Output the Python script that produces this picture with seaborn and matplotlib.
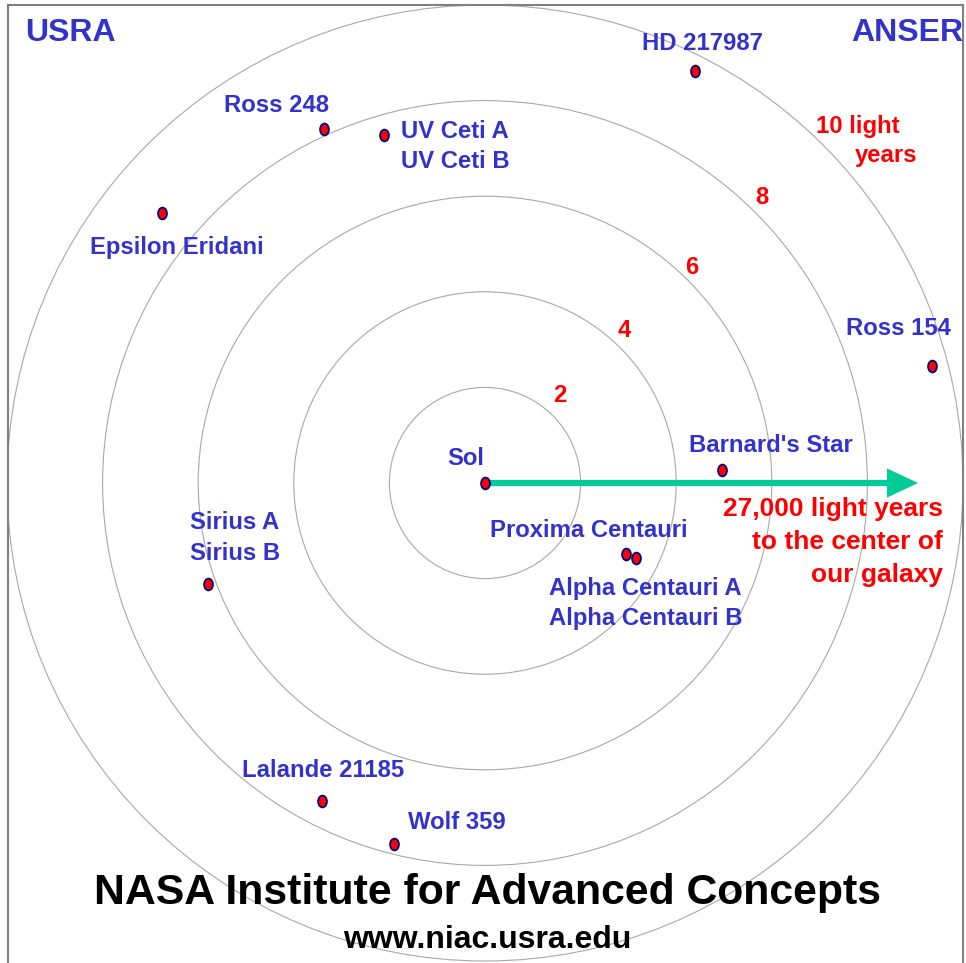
"""
Nearby stars within ~10 light years of the Sun (NIAC / USRA poster style).
Sol sits in the middle, rings every 2 light years, arrow towards the galactic center.
"""

import pandas as pd
import matplotlib.pyplot as plt
import seaborn as sns
from matplotlib.markers import MarkerStyle
from matplotlib.transforms import Affine2D
from matplotlib.patches import Circle

# Star positions in light years (Sol at origin)
star_names = ["Sol", "HD 217987", "Ross 248", "UV Ceti A\nUV Ceti B", "Epsilon Eridani",
              "Ross 154", "Barnard's Star", "Proxima Centauri",
              "Alpha Centauri A\nAlpha Centauri B", "Sirius A\nSirius B",
              "Lalande 21185", "Wolf 359"]
star_x = [0.0, 4.39, -3.36, -2.11, -6.76, 9.35, 4.95, 2.94, 3.15, -5.79, -3.41, -1.90]
star_y = [0.0, 8.62, 7.41, 7.27, 5.64, 2.45, 0.27, -1.48, -1.56, -2.11, -6.65, -7.56]

# Distance rings
ring_radii = [2, 4, 6, 8, 10]
ring_labels = ["2", "4", "6", "8", "10 light"]

galaxy_note = "27,000 light years\nto the center of\nour galaxy"
arrow_length = 9.06  # light years on the chart

# label offsets from the star, in pixels (dx, dy, ha)
label_layout = {
    "Sol": (-19, 24, "center"),
    "HD 217987": (8, 27, "center"),
    "Ross 248": (-48, 23, "center"),
    "UV Ceti A\nUV Ceti B": (17, -11, "left"),
    "Epsilon Eridani": (15, -34, "center"),
    "Ross 154": (-33, 37, "center"),
    "Barnard's Star": (49, 25, "center"),
    "Proxima Centauri": (-37, 23, "center"),
    "Alpha Centauri A\nAlpha Centauri B": (-87, -46, "left"),
    "Sirius A\nSirius B": (-18, 46, "left"),
    "Lalande 21185": (1, 30, "center"),
    "Wolf 359": (14, 22, "left"),
}
ring_label_offsets = [(7, 20), (4, 17), (4, 13), (6, 15), (35, 19)]

BLUE = "#3333CC"
RED = "#FF0000"
PX_PER_LY = 47.8
LABEL_SIZE = 17.2


def main():
    sns.set_style("white")
    plt.rcParams["font.family"] = ["Liberation Sans", "DejaVu Sans"]
    plt.rcParams["font.weight"] = "bold"

    fig = plt.figure(figsize=(9.66, 9.63), dpi=100)
    ax = fig.add_axes([8 / 966, 0, 955 / 966, 958 / 963])
    ax.set_xlim(-477 / PX_PER_LY, 478 / PX_PER_LY)
    ax.set_ylim(-480 / PX_PER_LY, 478 / PX_PER_LY)
    ax.set_xticks([])
    ax.set_yticks([])
    for side in ["left", "top", "right"]:
        ax.spines[side].set_color("#808080")
        ax.spines[side].set_linewidth(1.5)
    ax.spines["bottom"].set_visible(False)

    # rings
    for r in ring_radii:
        ax.add_patch(Circle((0, 0), r, fill=False, ec="#A8A8A8", lw=0.8, zorder=1))

    # arrow to the galactic center
    ax.arrow(0, 0, arrow_length, 0, width=0.13, head_width=0.61, head_length=0.65,
             length_includes_head=True, color="#00CC99", lw=0, zorder=2)

    # stars as small upright ovals
    stars = pd.DataFrame({"name": star_names, "x": star_x, "y": star_y})
    oval = MarkerStyle("o", transform=Affine2D().scale(0.75, 1.0))
    sns.scatterplot(data=stars, x="x", y="y", marker=oval, s=72, color=RED,
                    edgecolor="#000080", linewidth=1.3, zorder=3, ax=ax, legend=False)
    ax.set_xlabel("")
    ax.set_ylabel("")

    for name, x, y in zip(star_names, star_x, star_y):
        dx, dy, ha = label_layout[name]
        ax.annotate(name, (x, y), xytext=(dx, dy), textcoords="offset pixels",
                    ha=ha, va="center", color=BLUE, fontsize=LABEL_SIZE,
                    fontweight="bold", linespacing=1.42, zorder=4)

    # ring distance labels at 45 degrees
    for r, lab, (dx, dy) in zip(ring_radii, ring_labels, ring_label_offsets):
        ax.annotate(lab, (r * 0.7071, r * 0.7071), xytext=(dx, dy),
                    textcoords="offset pixels", ha="center", va="center",
                    color=RED, fontsize=LABEL_SIZE, fontweight="bold")
    ax.annotate("years", (10 * 0.7071, 10 * 0.7071), xytext=(63, -10),
                textcoords="offset pixels", ha="center", va="center",
                color=RED, fontsize=LABEL_SIZE, fontweight="bold")

    ax.annotate(galaxy_note, (arrow_length, 0), xytext=(25, -59),
                textcoords="offset pixels", ha="right", va="center",
                multialignment="right", color=RED, fontsize=19,
                fontweight="bold", linespacing=1.47)

    # corner logos and footer
    fig.text(70 / 966, 1 - 33 / 963, "USRA", ha="center", va="center",
             color=BLUE, fontsize=23, fontweight="bold")
    fig.text(907 / 966, 1 - 33 / 963, "ANSER", ha="center", va="center",
             color=BLUE, fontsize=23, fontweight="bold")
    fig.text(488 / 966, 1 - 893 / 963, "NASA Institute for Advanced Concepts",
             ha="center", va="center", color="black", fontsize=30.8, fontweight="bold")
    fig.text(487 / 966, 1 - 940 / 963, "www.niac.usra.edu", ha="center", va="center",
             color="black", fontsize=23, fontweight="bold")

    fig.savefig("out.png", dpi=100)


if __name__ == '__main__':
    main()
